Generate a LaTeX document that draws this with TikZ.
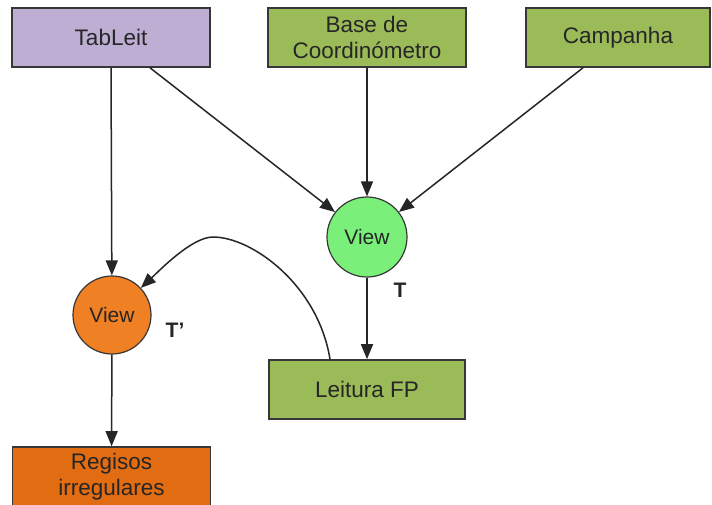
\documentclass[tikz,border=0pt]{standalone}
\usepackage{fontspec}
\setmainfont{Liberation Sans}
\usetikzlibrary{arrows.meta}

\definecolor{lavender}{RGB}{190,174,212}
\definecolor{olivegreen}{RGB}{155,187,89}
\definecolor{lightgreen}{RGB}{122,240,122}
\definecolor{brightorange}{RGB}{240,128,36}
\definecolor{darkorange}{RGB}{226,108,18}
\definecolor{edgegray}{RGB}{55,55,55}

\tikzset{
  box/.style={draw=edgegray, line width=1.6pt, minimum width=198pt, minimum height=59pt,
              align=center, inner sep=0pt, font=\fontsize{22.5}{26}\selectfont, text=black!85},
  viewnode/.style={circle, draw=edgegray, line width=1.2pt, minimum size=80pt, inner sep=0pt,
                   font=\fontsize{21}{25}\selectfont, text=black!85},
  tag/.style={font=\fontsize{21}{24}\selectfont\bfseries, text=black!85},
  arr/.style={draw=black!85, line width=1.5pt, -{Triangle[length=15pt,width=12pt]}}
}

\begin{document}
\begin{tikzpicture}[x=1pt, y=-1pt]
  \clip (0,0) rectangle (712,504);
  \fill[white] (0,0) rectangle (712,504);

  % sources
  \node[box, fill=lavender]    (tab)  at (111,37.5) {TabLeit};
  \node[box, fill=olivegreen]  (base) at (367,37.5) {Base de\\Coordinómetro};
  \node[box, fill=olivegreen, minimum width=184pt] (camp) at (618,37.5) {Campanha};

  % views
  \node[viewnode, fill=lightgreen]   (vt)  at (367,237) {View};
  \node[viewnode, fill=brightorange, minimum size=78pt] (vtp) at (112,315) {View};
  \node[tag] (tlab)  at (400,290) {T};
  \node[tag] (tplab) at (175,330) {T’};

  % results
  \node[box, fill=olivegreen, minimum width=196pt] (leit) at (367,389.5) {Leitura FP};
  \node[box, fill=darkorange, minimum height=60pt] (reg) at (111.5,477) {Regisos\\irregulares};

  % connectors
  \draw[arr] (tab.south) -- (vtp);
  \draw[arr] ([xshift=39pt]tab.south) -- (vt);
  \draw[arr] (base.south) -- (vt);
  \draw[arr] ([xshift=-35pt]camp.south) -- (vt);
  \draw[arr] (vt) -- (leit);
  \draw[arr] (vtp) -- (reg);
  \draw[arr] ([xshift=-37pt]leit.north)
        .. controls (318,285) and (252,237) .. (213,237)
        .. controls (192,237) and (160,270) .. (vtp);
\end{tikzpicture}
\end{document}
